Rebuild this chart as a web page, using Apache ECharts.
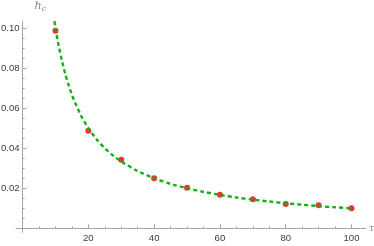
<!DOCTYPE html>
<html>
<head>
<meta charset="utf-8">
<script src="https://cdn.jsdelivr.net/npm/echarts@6/dist/echarts.min.js"></script>
<style>html,body{margin:0;padding:0;background:#fff}#c{width:374px;height:246px}</style>
</head>
<body>
<div id="c"></div>
<script>
const tauPoints = [10, 20, 30, 40, 50, 60, 70, 80, 90, 100];
const hcPoints = [0.0987, 0.0488, 0.0343, 0.0250, 0.0203, 0.0168, 0.0145, 0.0122, 0.0115, 0.0100];
const curveTau = [9.7, 10, 11, 12, 13, 14, 15, 16, 18, 20, 22.5, 25, 27.5, 30, 35, 40, 45, 50, 55, 60, 65, 70, 75, 80, 85, 90, 95, 100];
const curveHc = [0.1035, 0.1000, 0.0910, 0.0835, 0.0770, 0.0715, 0.0668, 0.0626, 0.0556, 0.0500, 0.0445, 0.0400, 0.0364, 0.0334, 0.0286, 0.0250, 0.0222, 0.0200, 0.0182, 0.0167, 0.0154, 0.0143, 0.0134, 0.0125, 0.0118, 0.0111, 0.0105, 0.0100];
const xTicks = [20, 40, 60, 80, 100];
const xMinorTicks = [5, 10, 15, 25, 30, 35, 45, 50, 55, 65, 70, 75, 85, 90, 95];
const yTicks = [0.02, 0.04, 0.06, 0.08, 0.10];
const yMinorTicks = [0.005, 0.01, 0.015, 0.025, 0.03, 0.035, 0.045, 0.05, 0.055, 0.065, 0.07, 0.075, 0.085, 0.09, 0.095];

const axisColor = '#a6a6a6';
const labelColor = '#3c3c3c';
const font = 'Liberation Sans';
const xMin = -2, xMax = 104.4, yMin = -0.002, yMax = 0.1036;
const gridW = 350, gridH = 211.3;
const yOff = -(0 - xMin) / (xMax - xMin) * gridW;   // place y-axis at tau = 0
const xOff = -(0 - yMin) / (yMax - yMin) * gridH;   // place x-axis at h_c = 0

const chart = echarts.init(document.getElementById('c'), null, {renderer: 'canvas'});
chart.setOption({
  animation: false,
  grid: {left: 16, top: 21, width: gridW, height: gridH, containLabel: false, outerBoundsMode: 'none'},
  xAxis: [{
    type: 'value', min: xMin, max: xMax, position: 'bottom', offset: xOff,
    axisLine: {onZero: false, lineStyle: {color: axisColor, width: 1}},
    axisTick: {inside: true, length: 4, customValues: xTicks, lineStyle: {color: axisColor}},
    axisLabel: {customValues: xTicks, color: labelColor, fontSize: 9.6, fontFamily: font, margin: 5},
    splitLine: {show: false},
    name: 'τ', nameLocation: 'end', nameGap: 3,
    nameTextStyle: {color: '#888', fontSize: 9, fontStyle: 'italic', fontFamily: 'DejaVu Serif', verticalAlign: 'middle'}
  }, {
    type: 'value', min: xMin, max: xMax, position: 'bottom', offset: xOff,
    axisLine: {show: false, onZero: false},
    axisTick: {inside: true, length: 2, customValues: xMinorTicks, lineStyle: {color: axisColor}},
    axisLabel: {show: false}, splitLine: {show: false}
  }],
  yAxis: [{
    type: 'value', min: yMin, max: yMax, position: 'left', offset: yOff,
    axisLine: {show: true, onZero: false, lineStyle: {color: axisColor, width: 1}},
    axisTick: {show: true, inside: true, length: 4, customValues: yTicks, lineStyle: {color: axisColor}},
    axisLabel: {customValues: yTicks, color: labelColor, fontSize: 9.6, fontFamily: font, margin: 3,
      formatter: v => v.toFixed(2)},
    splitLine: {show: false},
    name: '{i|h}{s|c}', nameLocation: 'end', nameGap: 8,
    nameTextStyle: {align: 'left', padding: [0, 0, 0, 12],
      rich: {i: {fontSize: 11, fontStyle: 'italic', color: '#888', fontFamily: 'DejaVu Serif'},
             s: {fontSize: 8, fontStyle: 'italic', color: '#888', fontFamily: 'DejaVu Serif', verticalAlign: 'bottom', padding: [5, 0, 0, 0]}}}
  }, {
    type: 'value', min: yMin, max: yMax, position: 'left', offset: yOff,
    axisLine: {show: false, onZero: false},
    axisTick: {show: true, inside: true, length: 2, customValues: yMinorTicks, lineStyle: {color: axisColor}},
    axisLabel: {show: false}, splitLine: {show: false}
  }],
  series: [{
    type: 'scatter', xAxisIndex: 0, yAxisIndex: 0, z: 2,
    data: tauPoints.map((t, i) => [t, hcPoints[i]]),
    symbol: 'circle', symbolSize: 6,
    itemStyle: {color: '#e60000'}
  }, {
    type: 'line', xAxisIndex: 0, yAxisIndex: 0, z: 3,
    data: curveTau.map((t, i) => [t, curveHc[i]]),
    showSymbol: false, smooth: 0.3,
    lineStyle: {color: '#16b016', width: 2.4, type: [4, 3]}
  }]
});
</script>
</body>
</html>
